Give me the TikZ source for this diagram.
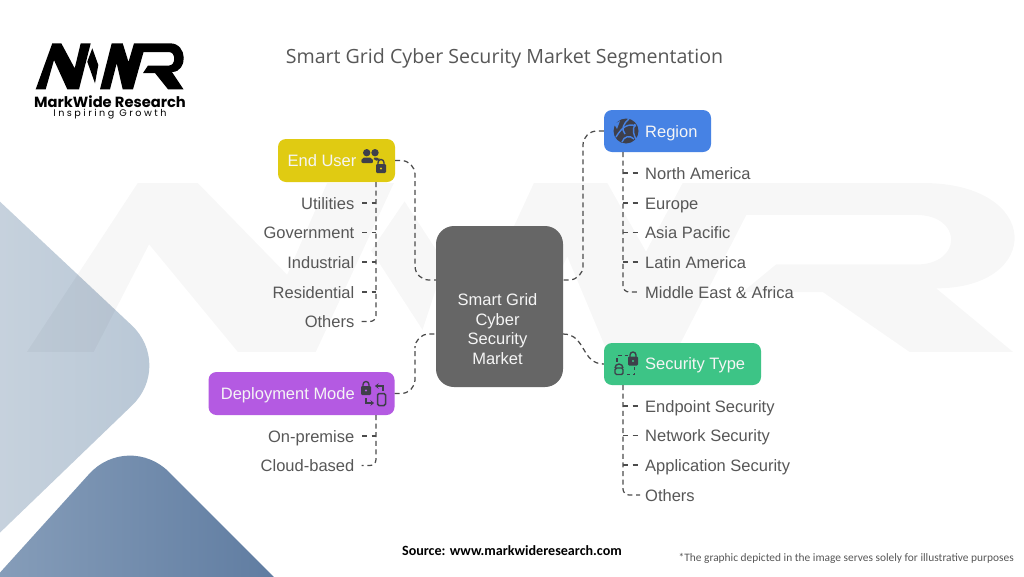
\documentclass[tikz,border=0pt]{standalone}
\usepackage{fontspec}
\setmainfont{Liberation Sans}
\newfontfamily\titlefont{Open Sans}
\newfontfamily\footfont{Carlito}
\newfontfamily\logofont{Poppins}
\usetikzlibrary{arrows.meta}
\definecolor{conncol}{HTML}{4C4C4C}
\definecolor{labelcol}{HTML}{575757}
\definecolor{icondark}{HTML}{3E3F4A}
\definecolor{eucol}{HTML}{E0CB12}
\definecolor{regcol}{HTML}{4682E4}
\definecolor{seccol}{HTML}{3DC486}
\definecolor{depcol}{HTML}{B45AE2}
\definecolor{cencol}{HTML}{666666}
\definecolor{lightA}{HTML}{CCD6E0}
\definecolor{lightB}{HTML}{B7C6D5}
\definecolor{darkA}{HTML}{8FA5BF}
\definecolor{darkB}{HTML}{56749B}
\newcommand{\mwrshape}[1]{%
  \fill[#1]
  (35.7,89.3) -- (52.3,43.3) -- (61.3,43.3) -- (74.7,68.3) -- (80.7,43.3) -- (90.7,43.3) -- (79,89.3) -- (67.3,89.3) -- (54,60) -- (45.7,89.3) -- cycle
  (92.3,48.3) -- (98.3,65) -- (95,83.3) -- (87.3,61.7) -- cycle
  (100,89.3) -- (111.7,43.3) -- (122.7,43.3) -- (128.5,62) -- (134,43.3) -- (146,43.3) -- (133,89.3) -- (122.7,89.3) -- (116.7,63.3) -- (110,89.3) -- cycle
  (134,43.3) -- (170,43.3) .. controls (188,43.3) and (188,72) .. (172,72) -- (183.5,89.3) -- (168,89.3) -- (155,73) -- (143,73) -- (148,65.5) -- (169,65.5) .. controls (176,65.5) and (176,52) .. (169,52) -- (143,52) -- cycle;
}
\newcommand{\lockicon}[4]{% x, y (centre of body), colour, keyhole colour
  \fill[#3,rounded corners=1.2pt] (#1-5,#2-4.5) rectangle (#1+5,#2+4.5);
  \draw[#3,line width=1.4pt] (#1-3,#2-4) -- (#1-3,#2-6) arc[start angle=180,end angle=360,radius=3] -- (#1+3,#2-4);
  \fill[#4] (#1,#2) circle (1.1);
}
\tikzset{
  boxbase/.style={rounded corners=8pt,inner sep=0pt},
  boxtext/.style={inner sep=0pt,text height=12pt,text depth=0pt,text=white!96!black,font=\fontsize{16.5}{20}\selectfont},
  labelL/.style={anchor=east,inner sep=0pt,text height=12pt,text depth=0pt,text=labelcol,font=\fontsize{16.5}{20}\selectfont},
  labelR/.style={anchor=west,inner sep=0pt,text height=12pt,text depth=0pt,text=labelcol,font=\fontsize{16.5}{20}\selectfont},
  conn/.style={draw=conncol,line width=1.25pt,dash pattern=on 5pt off 3.6pt,rounded corners=14pt},
  branch/.style={draw=conncol,line width=1.25pt,dash pattern=on 5pt off 4.5pt},
  trunk/.style={draw=conncol,line width=1.25pt,dash pattern=on 5pt off 3.6pt,rounded corners=6pt},
}
\begin{document}
\begin{tikzpicture}[x=1pt,y=-1pt]
\useasboundingbox (0,0) rectangle (1024,576);
\fill[white] (0,0) rectangle (1024,576);
\begin{scope}
\clip (0,0) rectangle (1024,576);
% decorative shapes
\shade[left color=lightA,right color=lightB,rounded corners=58pt] (-70,136) -- (174,365) -- (-70,600) -- cycle;
\shade[left color=darkA,right color=darkB,rounded corners=58pt] (128,431) -- (347,650) -- (-70,650) -- cycle;
% watermark
\begin{scope}[shift={(-211.1,24.1)},x=6.67pt,y=-3.67pt]
\mwrshape{black,fill opacity=0.03}
\end{scope}
\end{scope}
% logo
\mwrshape{black}
\node[inner sep=0pt,font=\logofont\bfseries\fontsize{14.7}{16}\selectfont,text=black] (logoa) at (110,101.5) {MarkWide Research};
\node[inner sep=0pt,font=\logofont\fontsize{9.6}{11}\selectfont\addfontfeature{LetterSpace=26},text=black] (logob) at (110,114.5) {Inspiring Growth};
% title
\node[inner sep=0pt,text=labelcol,font=\titlefont\fontsize{19.6}{24}\selectfont] (title) at (504.5,58) {Smart Grid Cyber Security Market Segmentation};
% main boxes
\node[boxbase,fill=cencol,rounded corners=18pt,minimum width=127pt,minimum height=161pt] (center) at (499.5,306.5) {};
\node[align=center,inner sep=0pt,text=white!96!black,font=\fontsize{16.5}{19.8}\selectfont] (centertext) at (497.5,329) {Smart Grid\\Cyber\\Security\\Market};
\node[boxbase,fill=eucol,minimum width=117pt,minimum height=43pt] (enduser) at (336.5,160.5) {};
\node[boxtext] (endusertext) at (322,160.5) {End User};
\node[boxbase,fill=regcol,minimum width=107pt,minimum height=42pt] (region) at (657.5,131) {};
\node[boxtext,anchor=west] (regiontext) at (645,131) {Region};
\node[boxbase,fill=seccol,minimum width=157pt,minimum height=42pt] (secur) at (682.5,364) {};
\node[boxtext,anchor=west] (securtext) at (645,363.5) {Security Type};
\node[boxbase,fill=depcol,minimum width=186pt,minimum height=43pt] (deploy) at (301.5,393.5) {};
\node[boxtext,anchor=east] (deploytext) at (355,393.5) {Deployment Mode};
% labels
\node[labelL] (u1) at (354.5,203) {Utilities};
\node[labelL] (u2) at (354.5,232.5) {Government};
\node[labelL] (u3) at (354.5,262) {Industrial};
\node[labelL] (u4) at (354.5,292) {Residential};
\node[labelL] (u5) at (354.5,321.5) {Others};
\node[labelR] (r1) at (645,173) {North America};
\node[labelR] (r2) at (645,203) {Europe};
\node[labelR] (r3) at (645,232.5) {Asia Pacific};
\node[labelR] (r4) at (645,262) {Latin America};
\node[labelR] (r5) at (645,292) {Middle East \& Africa};
\node[labelL] (d1) at (354.5,436) {On-premise};
\node[labelL] (d2) at (354.5,465.5) {Cloud-based};
\node[labelR] (s1) at (645,406) {Endpoint Security};
\node[labelR] (s2) at (645,435.5) {Network Security};
\node[labelR] (s3) at (645,465) {Application Security};
\node[labelR] (s4) at (645,495) {Others};
% ports
\coordinate (cW1) at (436,280);
\coordinate (cW2) at (436,334);
\coordinate (cE1) at (563,280);
\coordinate (cE2) at (563,334);
\coordinate (jEU) at (415,220);
\coordinate (jDE) at (415,360);
\coordinate (jRE) at (583,200);
\coordinate (tEU) at (376,182);
\coordinate (tRE) at (623,152);
\coordinate (tSE) at (623,385);
\coordinate (tDE) at (376,415);
% main connectors
\draw[conn] (enduser.east) -| (jEU) |- (cW1);
\draw[conn] (region.west) -| (jRE) |- (cE1);
\draw[conn] (deploy.east) -| (jDE) |- (cW2);
\draw[conn] (cE2) .. controls (586,334) and (581,364) .. (secur.west);
% trunks
\draw[trunk] (tEU) |- ([xshift=7pt]u5.east);
\draw[trunk] (tRE) |- ([xshift=-5pt]r5.west);
\draw[trunk] (tSE) |- ([xshift=-5pt]s4.west);
\draw[trunk] (tDE) |- ([xshift=7pt]d2.east);
% branches
\foreach \n in {u1,u2,u3,u4} {\draw[branch] ([xshift=7.5pt]\n.east) -- (\n.east -| tEU);}
\draw[branch] ([xshift=7.5pt]d1.east) -- (d1.east -| tDE);
\foreach \n in {r1,r2,r3,r4} {\draw[branch] (\n.west -| tRE) -- ([xshift=-7pt]\n.west);}
\foreach \n in {s1,s2,s3} {\draw[branch] (\n.west -| tSE) -- ([xshift=-7pt]\n.west);}
% icon: end user
\fill[icondark] (366.7,152.7) circle (3.7);
\fill[icondark] (375,152.7) circle (3.7);
\fill[icondark,rounded corners=2pt] (361,163) -- (362,157.5) -- (372,157.5) -- (373.5,163) -- cycle;
\fill[icondark,rounded corners=2pt] (373,157.5) -- (379,157.5) -- (380,160) -- (374.5,161) -- cycle;
\lockicon{381}{168.5}{icondark}{eucol}
% icon: region
\fill[icondark] (626,131) circle (12.5);
\draw[regcol,line width=1.4pt] (616,137) .. controls (622,127) and (628,123) .. (636,126);
\draw[regcol,line width=1.4pt] (629,119) .. controls (623,124) and (621,129) .. (625,134);
\draw[regcol,line width=1.4pt] (622,142) .. controls (624,136) and (630,135) .. (634,139);
\draw[regcol,line width=1.4pt] (635,124) .. controls (632,130) and (634,136) .. (636,139);
\fill[regcol] (614,124) -- (620,121) -- (617,129) -- cycle;
% icon: security
\draw[icondark,line width=1.4pt,dash pattern=on 4pt off 3pt] (617,362) -- (617,355.5) -- (628,355.5);
\draw[icondark,line width=1.4pt,dash pattern=on 3pt off 3pt] (627,374.5) -- (634.5,374.5) -- (634.5,367);
\draw[icondark,line width=1.4pt,rounded corners=1.5pt] (615,374.5) -- (615,368) -- (623,368) -- (623,374.5) -- cycle;
\draw[icondark,line width=1.4pt] (615,368) arc[start angle=180,end angle=360,radius=4];
\lockicon{633}{361}{icondark}{seccol}
% icon: deployment
\lockicon{366}{390.5}{icondark}{depcol}
\draw[icondark,line width=1.5pt,rounded corners=1.5pt] (377.5,393.5) rectangle (385.5,405.5);
\draw[icondark,line width=1.5pt,-{Stealth[length=3.5pt,width=5.5pt]}] (383,391) -- (383,386) -- (375,386);
\draw[icondark,line width=1.5pt,-{Stealth[length=3.5pt,width=5.5pt]}] (366,398) -- (366,403) -- (374,403);
% footer
\node[inner sep=0pt,text=black,font=\footfont\bfseries\fontsize{14.1}{16}\selectfont] (source) at (512,551) {Source: www.markwideresearch.com};
\node[anchor=east,inner sep=0pt,text=labelcol,font=\footfont\fontsize{11.4}{14}\selectfont] (note) at (1014,558) {*The graphic depicted in the image serves solely for illustrative purposes};
\end{tikzpicture}
\end{document}
